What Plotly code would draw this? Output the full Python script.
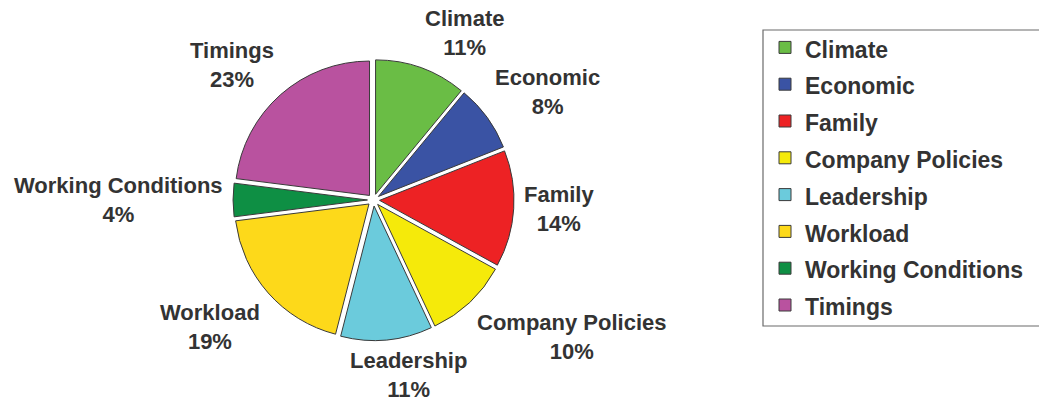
import math
import plotly.graph_objects as go

# Share of responses per factor (percent)
factors = ["Climate", "Economic", "Family", "Company Policies",
           "Leadership", "Workload", "Working Conditions", "Timings"]
shares = [11, 8, 14, 10, 11, 19, 4, 23]
slice_colors = ["#6ABD45", "#3A53A4", "#ED2224", "#F5EA0A",
                "#6BCBDC", "#FDD91A", "#0E8F44", "#B9529F"]

FONT = "Liberation Sans, Arial, sans-serif"
INK = "#333333"
W, H = 1039, 402
PULL = 0.045
DOM_X = [0.2243, 0.4947]
DOM_Y = [0.1530, 0.8520]

fig = go.Figure(
    go.Pie(
        # legend rows are spaced by a larger base font; entries render at 23px
        labels=[f"<span style='font-size:23px'><b>{f}</b></span>" for f in factors],
        values=shares,
        sort=False,
        direction="clockwise",
        rotation=0,
        pull=[PULL] * len(shares),
        marker=dict(colors=slice_colors, line=dict(color="#3a3a3a", width=1)),
        textinfo="none",
        hoverinfo="label+percent",
        domain=dict(x=DOM_X, y=DOM_Y),
    )
)

# category labels sit just outside each slice, at its mid angle
cx = (DOM_X[0] + DOM_X[1]) / 2 * W
cy = (1 - (DOM_Y[0] + DOM_Y[1]) / 2) * H
outer = min((DOM_X[1] - DOM_X[0]) * W, (DOM_Y[1] - DOM_Y[0]) * H) / 2
label_r = outer + 9
total = sum(shares)
cum = 0
for name, val in zip(factors, shares):
    mid = 2 * math.pi * (cum + val / 2) / total
    cum += val
    sx, sy = math.sin(mid), math.cos(mid)
    px = cx + label_r * sx
    py = cy - label_r * sy
    xa = "left" if sx > 0.25 else ("right" if sx < -0.25 else "center")
    ya = "bottom" if sy > 0.25 else ("top" if sy < -0.25 else "middle")
    # near-vertical labels lean toward the side their slice points to
    xs = 55 * sx / 0.25 if xa == "center" else 0
    # upper diagonal labels hug the rim a little closer
    ys = -20 * (1 - sy) if ya == "bottom" else (2 if xa == "center" else 0)
    fig.add_annotation(
        x=px / W, y=1 - py / H, xref="paper", yref="paper",
        text=f"<b>{name}</b><br><b>{round(100 * val / total)}%</b>",
        showarrow=False, xanchor=xa, yanchor=ya, xshift=xs, yshift=ys,
        align="center", borderpad=0,
        font=dict(family=FONT, size=22, color=INK),
    )

# legend frame, open on the right where it runs off the page
fig.add_shape(
    type="rect", xref="paper", yref="paper",
    x0=763 / W, x1=1.01, y0=1 - 326 / H, y1=1 - 30 / H,
    line=dict(color="#6b6b6b", width=1.2), fillcolor="rgba(0,0,0,0)",
)

fig.update_layout(
    width=W,
    height=H,
    margin=dict(l=0, r=0, t=0, b=0, autoexpand=False),
    paper_bgcolor="white",
    plot_bgcolor="white",
    font=dict(family=FONT, color=INK),
    showlegend=True,
    legend=dict(
        x=765 / W,
        y=1 - 24 / H,
        xanchor="left",
        yanchor="top",
        borderwidth=0,
        bgcolor="rgba(0,0,0,0)",
        font=dict(family=FONT, size=26, color=INK),
        itemclick=False,
    ),
)

fig.write_html("out.html")
